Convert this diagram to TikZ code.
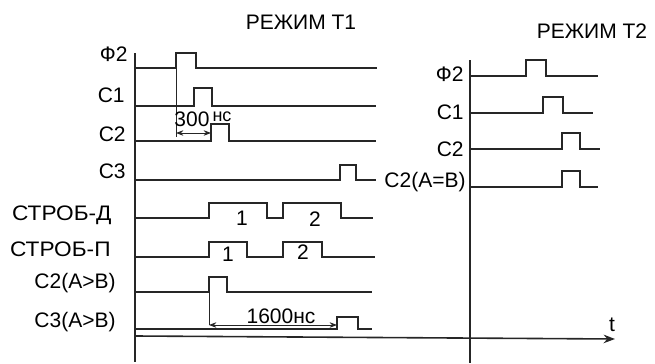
\documentclass[tikz,border=0pt]{standalone}
\usepackage{fontspec}
\setmainfont{Liberation Sans}
\newfontfamily\widesans[FakeStretch=1.08]{Liberation Sans}
\usetikzlibrary{arrows.meta, positioning}

\begin{document}
\begin{tikzpicture}[
    x=0.5pt, y=-0.5pt,
    sig/.style={line width=0.8pt, black!85},
    axis/.style={line width=0.8pt, black!85},
    dim/.style={{Stealth[length=1.3mm]}-{Stealth[length=1.3mm]}, line width=0.5pt, black!85},
    ext/.style={line width=0.5pt, black!85},
    lbl/.style={font=\fontsize{10.5}{12}\selectfont, anchor=east, inner sep=1pt},
    widelbl/.style={font=\widesans\fontsize{10.5}{12}\selectfont, anchor=east, inner sep=1pt},
    num/.style={font=\fontsize{10.5}{12}\selectfont, inner sep=1pt},
    note/.style={font=\fontsize{9}{10}\selectfont, inner sep=1pt},
    title/.style={font=\fontsize{10.5}{12}\selectfont},
  ]
  \useasboundingbox (0,0) rectangle (655,364);

  % Titles
  \node[title] (modeA) at (301,22) {РЕЖИМ Т1};
  \node[title] (modeB) at (592,31) {РЕЖИМ Т2};

  % Axes
  \coordinate (axA) at (135,53);
  \coordinate (axAend) at (135,362);
  \coordinate (axB) at (470,60);
  \coordinate (axBend) at (470,363);
  \coordinate (tstart) at (135,336);
  \coordinate (tend) at (615,339);
  \draw[axis] (axA) -- (axAend);
  \draw[axis] (axB) -- (axBend);
  \draw[axis, -{Stealth[length=2mm]}] (tstart) -- (tend);
  \node[num] (tlab) at (612,325) {t};

  % Labels - mode T1
  \node[lbl] (phiA) at (130,54) {Ф2};
  \node[lbl] (cA1) at (127,95) {С1};
  \node[lbl] (cA2) at (128,134) {С2};
  \node[lbl] (cA3) at (128,171) {С3};
  \node[widelbl] (strobD) at (114,215) {СТРОБ-Д};
  \node[widelbl] (strobP) at (113,249) {СТРОБ-П};
  \node[lbl] (cmpA2) at (118,283) {С2(A>B)};
  \node[lbl] (cmpA3) at (118,322) {С3(A>B)};

  % Signals - mode T1
  \draw[sig] (135,68) -| (176,53) -| (196,68) -- (377,68);
  \draw[sig] (135,106) -| (194,88) -| (212,106) -- (376,106);
  \draw[sig] (135,141) -| (211,124) -| (229,141) -- (376,141);
  \draw[sig] (135,180) -| (340,165) -| (356,180) -- (376,180);
  \draw[sig] (135,218) -| (209,203) -| (267,218) -| (283,203) -| (341,218) -- (373,218);
  \draw[sig] (135,257) -| (209,242) -| (247,257) -| (283,242) -| (322,257) -- (375,257);
  \draw[sig] (135,292) -| (209,277) -| (227,292) -- (372,292);
  \draw[sig] (135,329) -| (337,317) -| (358,329) -- (372,329);

  % Pulse numbers
  \node[num] (nD1) at (242,218) {1};
  \node[num] (nD2) at (315,219) {2};
  \node[num] (nP1) at (228,254) {1};
  \node[num] (nP2) at (303,252) {2};

  % Timing marks
  \coordinate (phirise) at (176,68);
  \coordinate (dimAl) at (176,133);
  \coordinate (dimAr) at (211,133);
  \draw[ext] (phirise) -- (176,137);
  \draw[dim] (dimAl) -- (dimAr);
  \node[num] (ns300) at (192,119) {300};
  \node[note] (ns300u) at (222,117) {нс};

  \coordinate (cmprise) at (209,292);
  \coordinate (dimBl) at (209,325);
  \coordinate (dimBr) at (337,325);
  \draw[ext] (cmprise) -- (dimBl);
  \draw[dim] (dimBl) -- (dimBr);
  \node[num] (ns1600) at (281,316) {1600нс};

  % Labels - mode T2
  \node[lbl] (phiB) at (466,74) {Ф2};
  \node[lbl] (cB1) at (466,112) {С1};
  \node[lbl] (cB2) at (466,149) {С2};
  \node[lbl] (eqB2) at (468,182) {С2(A=B)};

  % Signals - mode T2
  \draw[sig] (470,76) -| (526,60) -| (546,76) -- (598,76);
  \draw[sig] (470,113) -| (543,97) -| (563,113) -- (593,113);
  \draw[sig] (470,149) -| (562,133) -| (580,149) -- (600,149);
  \draw[sig] (470,187) -| (562,171) -| (580,187) -- (598,187);

\end{tikzpicture}
\end{document}
